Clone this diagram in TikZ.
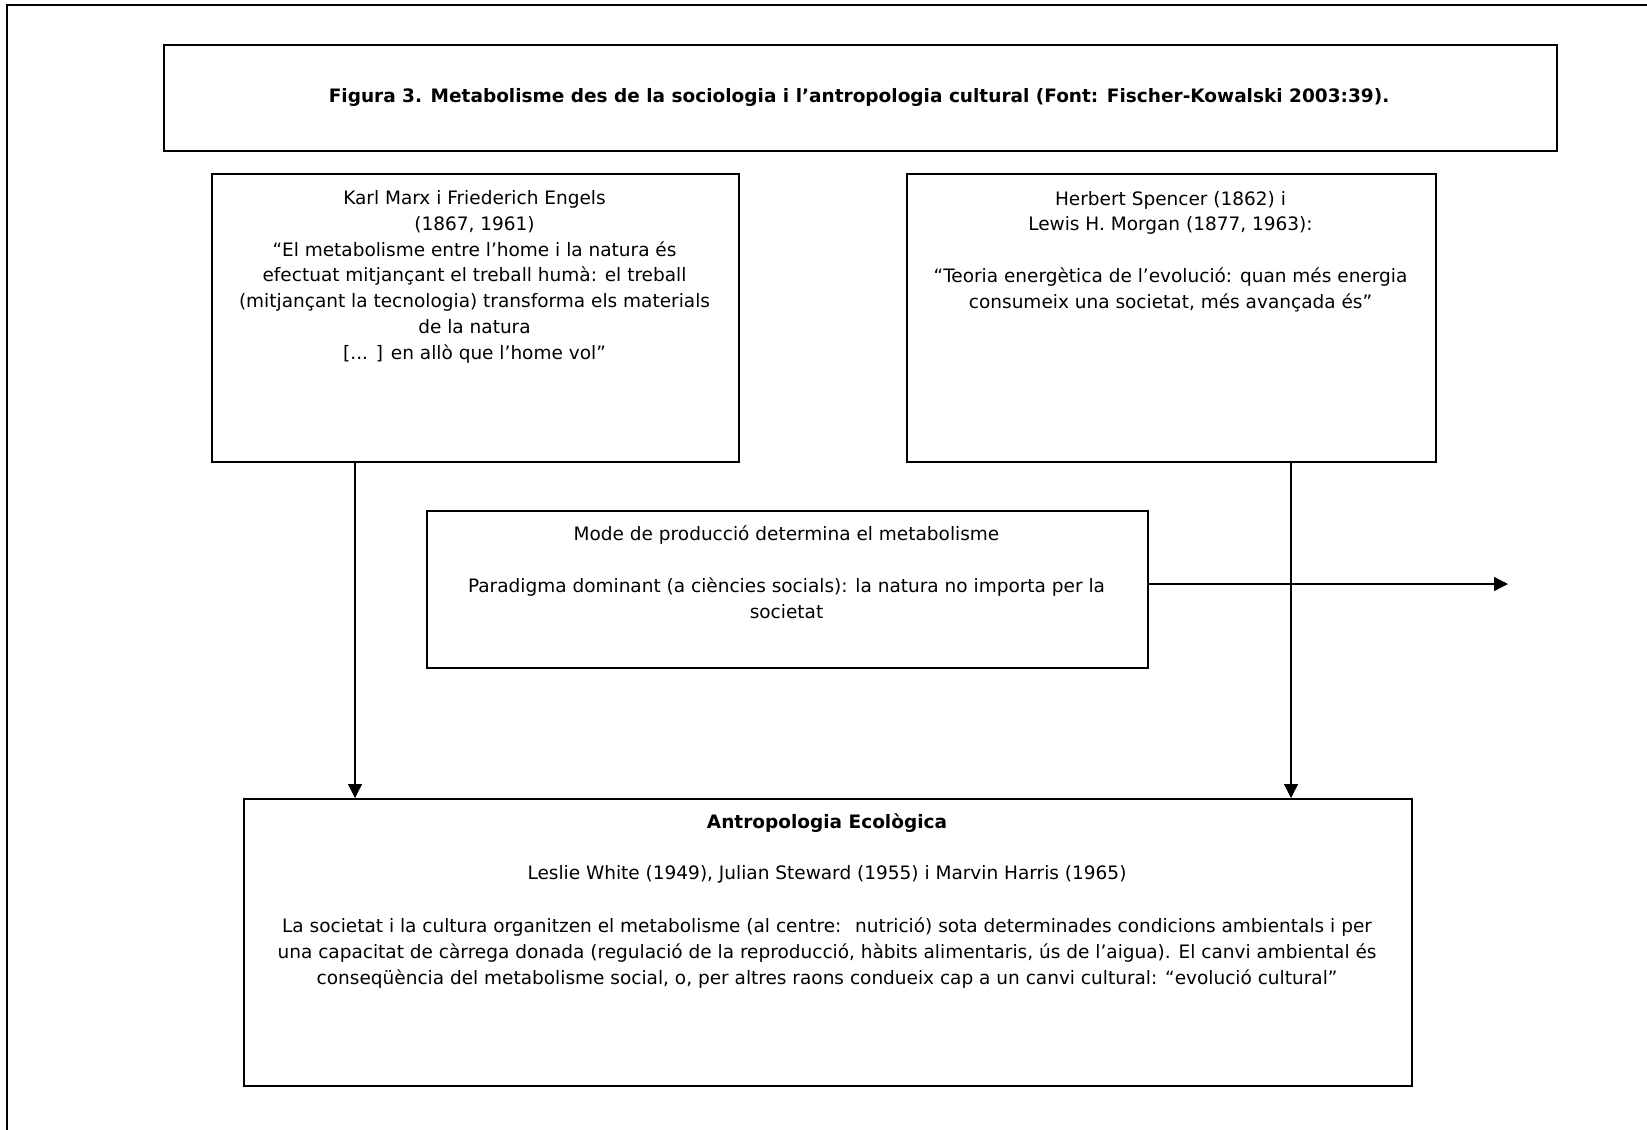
\documentclass[tikz,border=0pt]{standalone}
\usepackage{fontspec}
\setmainfont{DejaVu Sans}
\usetikzlibrary{arrows.meta}
\begin{document}
\begin{tikzpicture}[x=1pt,y=-1pt,
  box/.style={draw,line width=1.8pt,inner sep=0pt,anchor=north west},
  txt/.style={inner sep=0pt,anchor=base,align=center,font=\fontsize{18.5}{25.7}\selectfont},
  arr/.style={line width=1.3pt,-{Triangle[length=14pt,width=14pt]}}]
\useasboundingbox (0,0) rectangle (1647,1130);
\draw[line width=2pt] (7,1130) -- (7,5) -- (1647,5);
% boxes
\node[box,minimum width=1393pt,minimum height=106pt] (title) at (163,44) {};
\node[box,minimum width=527pt,minimum height=288pt] (marx) at (211,173) {};
\node[box,minimum width=529pt,minimum height=288pt] (spencer) at (906,173) {};
\node[box,minimum width=721pt,minimum height=157pt] (mode) at (426,510) {};
\node[box,minimum width=1168pt,minimum height=287pt] (antrop) at (243,798) {};
% texts (base anchor = baseline of the last line)
\node[txt,font=\bfseries\fontsize{18.5}{25.7}\selectfont] (titletxt) at (859,102) {Figura 3. Metabolisme des de la sociologia i l’antropologia cultural (Font: Fischer-Kowalski 2003:39).};
\node[txt] (marxtxt) at (474.5,359) {Karl Marx i Friederich Engels\\
(1867, 1961)\\
“El metabolisme entre l’home i la natura és\\
efectuat mitjançant el treball humà: el treball\\
(mitjançant la tecnologia) transforma els materials\\
de la natura\\
{[}... ] en allò que l’home vol”};
\node[txt] (spencertxt) at (1170.5,308) {Herbert Spencer (1862) i\\
Lewis H. Morgan (1877, 1963):\\[25.7pt]
“Teoria energètica de l’evolució: quan més energia\\
consumeix una societat, més avançada és”};
\node[txt] (modetxt) at (786.5,618) {Mode de producció determina el metabolisme\\[25.7pt]
Paradigma dominant (a ciències socials): la natura no importa per la\\
societat};
\node[txt] (antroptxt) at (827,984) {\textbf{Antropologia Ecològica}\\[25.7pt]
Leslie White (1949), Julian Steward (1955) i Marvin Harris (1965)\\[27pt]
La societat i la cultura organitzen el metabolisme (al centre:~ nutrició) sota determinades condicions ambientals i per\\
una capacitat de càrrega donada (regulació de la reproducció, hàbits alimentaris, ús de l’aigua). El canvi ambiental és\\
conseqüència del metabolisme social, o, per altres raons condueix cap a un canvi cultural: “evolució cultural”};
% connectors
\coordinate (lx) at (355,0);
\coordinate (rx) at (1291,0);
\coordinate (hy) at (0,584);
\coordinate (hend) at (1508,584);
\draw[arr] (marx.south -| lx) -- (antrop.north -| lx);
\draw[arr] (spencer.south -| rx) -- (antrop.north -| rx);
\draw[arr] (mode.east |- hy) -- (hend);
\end{tikzpicture}
\end{document}
